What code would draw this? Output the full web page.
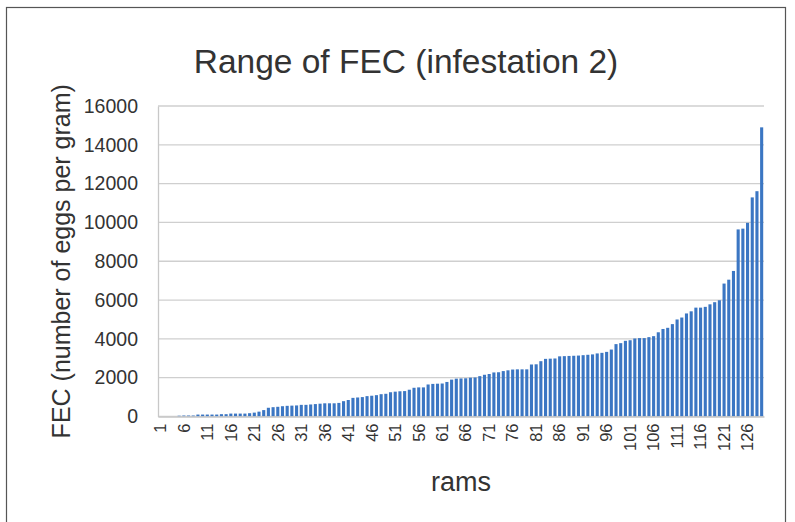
<!DOCTYPE html>
<html>
<head>
<meta charset="utf-8">
<script src="https://cdn.jsdelivr.net/npm/d3@7"></script>
<style>
  body { margin: 0; background: #fff; }
  text { font-family: 'Liberation Sans', Arial, sans-serif; fill: #333; }
</style>
</head>
<body>
<div id="chart"></div>
<script>
// FEC per ram, sorted ascending
let fecValues = [
  0, 0, 0, 0, 40, 50, 50, 50, 100, 100,
  100, 100, 100, 120, 120, 150, 150, 150, 150, 170,
  200, 250, 330, 450, 480, 500, 530, 550, 560, 570,
  600, 600, 620, 640, 660, 680, 680, 680, 700, 790,
  850, 960, 980, 1000, 1050, 1070, 1100, 1150, 1170, 1250,
  1280, 1300, 1310, 1380, 1480, 1500, 1500, 1650, 1680, 1690,
  1700, 1780, 1900, 1950, 1960, 1970, 2000, 2010, 2080, 2150,
  2190, 2270, 2280, 2340, 2380, 2420, 2430, 2430, 2430, 2680,
  2690, 2850, 2970, 2980, 2990, 3100, 3110, 3120, 3130, 3140,
  3160, 3180, 3200, 3250, 3280, 3330, 3450, 3730, 3780, 3900,
  3930, 4020, 4040, 4040, 4090, 4140, 4340, 4510, 4570, 4760,
  5000, 5100, 5310, 5420, 5610, 5610, 5650, 5780, 5890, 5990,
  6850, 7050, 7500, 9640, 9680, 9980, 11290, 11610, 14900
]
let rams = fecValues.map((d, i) => i + 1)
let yTicks = [0, 2000, 4000, 6000, 8000, 10000, 12000, 14000, 16000]

let margin = { top: 106, left: 158, right: 31, bottom: 105.5 }
let totalWidth = 795
let totalHeight = 522
let width = totalWidth - margin.left - margin.right
let height = totalHeight - margin.top - margin.bottom

let outer = d3
  .select('#chart')
  .append('svg')
  .attr('width', totalWidth)
  .attr('height', totalHeight)

// frame round the whole picture
outer
  .append('rect')
  .attr('x', 6.5)
  .attr('y', 7.5)
  .attr('width', 779)
  .attr('height', 530)
  .attr('fill', 'none')
  .attr('stroke', '#555')
  .attr('stroke-width', 1.2)

let svg = outer
  .append('g')
  .attr('transform', 'translate(' + margin.left + ',' + margin.top + ')')

let xPositionScale = d3
  .scaleBand()
  .domain(rams)
  .range([0, width])
  .paddingInner(0.34)
  .paddingOuter(0.17)

let yPositionScale = d3
  .scaleLinear()
  .domain([0, 16000])
  .range([height, 0])

// gridlines
svg
  .selectAll('.grid')
  .data(yTicks)
  .enter()
  .append('line')
  .attr('class', 'grid')
  .attr('x1', 0)
  .attr('x2', width)
  .attr('y1', d => yPositionScale(d))
  .attr('y2', d => yPositionScale(d))
  .attr('stroke', '#cfcfcf')
  .attr('stroke-width', 1.3)

svg
  .selectAll('.bar')
  .data(fecValues)
  .enter()
  .append('rect')
  .attr('class', 'bar')
  .attr('x', (d, i) => xPositionScale(rams[i]))
  .attr('width', xPositionScale.bandwidth())
  .attr('y', d => yPositionScale(d))
  .attr('height', d => height - yPositionScale(d))
  .attr('fill', '#3b76c3')

// y axis
let yAxis = d3
  .axisLeft(yPositionScale)
  .tickValues(yTicks)
  .tickFormat(d3.format('d'))
  .tickSize(0)
  .tickPadding(20)

svg
  .append('g')
  .attr('class', 'axis y-axis')
  .call(yAxis)
  .call(g => g.select('.domain').attr('stroke', '#c8c8c8').attr('stroke-width', 1.3))
  .selectAll('text')
  .attr('font-size', 19.5)
  .attr('font-family', "'Liberation Sans', Arial, sans-serif")
  .attr('fill', '#333')

// x axis, a label every 5th ram
let xAxis = d3
  .axisBottom(xPositionScale)
  .tickValues(rams.filter(d => (d - 1) % 5 === 0))
  .tickSize(0)

svg
  .append('g')
  .attr('class', 'axis x-axis')
  .attr('transform', 'translate(0,' + height + ')')
  .call(xAxis)
  .call(g => g.select('.domain').attr('stroke', '#c8c8c8').attr('stroke-width', 1.3))
  .selectAll('text')
  .attr('font-size', 16.5)
  .attr('font-family', "'Liberation Sans', Arial, sans-serif")
  .attr('fill', '#333')
  .attr('text-anchor', 'end')
  .attr('transform', 'rotate(-90)')
  .attr('x', -7)
  .attr('y', 0)
  .attr('dy', '0.35em')

// title
outer
  .append('text')
  .attr('x', 406)
  .attr('y', 73)
  .attr('text-anchor', 'middle')
  .attr('font-size', 33.5)
  .text('Range of FEC (infestation 2)')

// axis titles
outer
  .append('text')
  .attr('x', 461)
  .attr('y', 491)
  .attr('text-anchor', 'middle')
  .attr('font-size', 27)
  .text('rams')

outer
  .append('text')
  .attr('transform', 'translate(70,' + (margin.top + height / 2) + ') rotate(-90)')
  .attr('text-anchor', 'middle')
  .attr('font-size', 25)
  .text('FEC (number of eggs per gram)')
</script>
</body>
</html>
